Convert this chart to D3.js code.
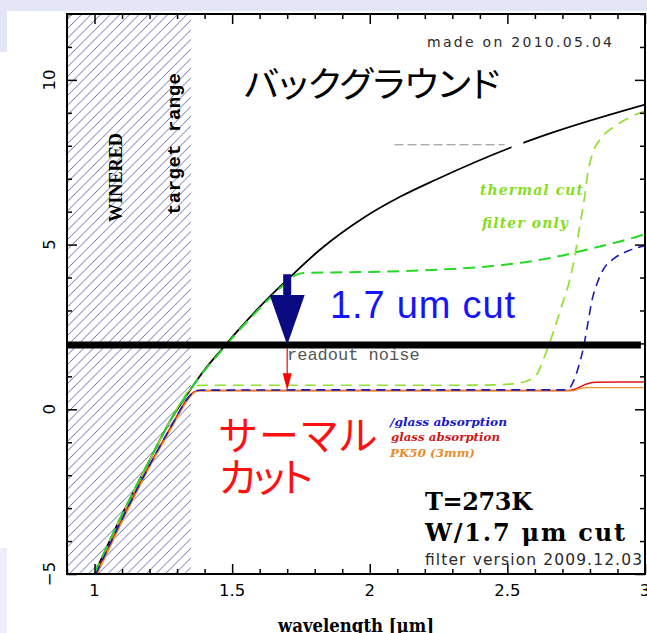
<!DOCTYPE html>
<html><head><meta charset="utf-8">
<script src="https://cdn.jsdelivr.net/npm/d3@7"></script>
<style>
html,body{margin:0;padding:0;background:#fff;}
svg{display:block;}
</style></head>
<body>
<svg id="chart" width="647" height="633"></svg>
<script>
// Axis ticks (wavelength in μm, log signal)
const xMajor = [1, 1.5, 2, 2.5, 3];
const xMajorLabels = ["1", "1.5", "2", "2.5", "3"];
const yMajor = [-5, 0, 5, 10];
const yMajorLabels = ["−5", "0", "5", "10"];

// Thermal background, T = 273 K
const background = [[1.0,-5.0],[1.1,-3.2],[1.2,-1.55],[1.275,-0.35],[1.35,0.62],[1.4,1.2],[1.46,1.8],[1.52,2.38],[1.64,3.45],[1.7,3.93],[1.82,4.85],[1.975,5.8],[2.11,6.45],[2.24,6.97],[2.52,7.97],[2.66,8.39],[3.0,9.25]];
// With the 1.7 μm cut filter
const cut17 = [[1.0,-5.0],[1.1,-3.2],[1.2,-1.55],[1.275,-0.35],[1.35,0.62],[1.4,1.18],[1.46,1.77],[1.52,2.35],[1.64,3.4],[1.7,3.88],[1.73,4.07],[1.76,4.14],[1.9,4.16],[2.06,4.18],[2.25,4.24],[2.42,4.33],[2.55,4.45],[2.66,4.6],[2.79,4.85],[2.97,5.24],[3.0,5.32]];
// Thermal cut filter only
const thermalCut = [[1.0,-5.0],[1.1,-3.2],[1.2,-1.55],[1.275,-0.35],[1.35,0.62],[1.37,0.72],[1.4,0.73],[1.8,0.73],[2.3,0.73],[2.45,0.74],[2.52,0.77],[2.598,0.97],[2.638,1.67],[2.67,2.42],[2.699,3.18],[2.725,3.88],[2.746,4.7],[2.764,5.61],[2.779,6.36],[2.793,7.21],[2.812,7.82],[2.841,8.24],[2.888,8.58],[2.942,8.85],[3.0,9.06]];
// Thermal cut w/ glass absorption
const glassBlue = [[1.005,-5.0],[1.105,-3.25],[1.205,-1.62],[1.283,-0.45],[1.32,0.1],[1.345,0.4],[1.36,0.52],[1.38,0.58],[2.0,0.59],[2.717,0.59],[2.743,0.91],[2.761,1.36],[2.775,1.82],[2.793,2.64],[2.808,3.33],[2.826,3.82],[2.848,4.24],[2.888,4.58],[2.942,4.82],[3.0,4.97]];
const glassRed = [[1.005,-5.0],[1.105,-3.25],[1.205,-1.62],[1.283,-0.45],[1.32,0.1],[1.345,0.4],[1.36,0.52],[1.38,0.57],[2.0,0.57],[2.72,0.57],[2.743,0.6],[2.761,0.67],[2.797,0.79],[2.822,0.82],[3.0,0.83]];
// PK50 (3mm)
const pk50 = [[1.01,-5.0],[1.11,-3.25],[1.21,-1.6],[1.288,-0.45],[1.325,0.1],[1.35,0.4],[1.365,0.52],[1.385,0.56],[2.0,0.56],[2.74,0.56],[2.76,0.62],[2.79,0.66],[3.0,0.66]];

const readoutNoise = 1.95;
const targetRange = [0.9, 1.35];
const cutArrow = {w: 1.7, from: 4.1, to: readoutNoise};
const gainArrow = {w: 1.7, from: readoutNoise, to: 0.58};
const keyLine = {w0: 2.09, w1: 2.49, v: 8.03};

const svg = d3.select("#chart");
const W = 647, H = 633;
const L = 67, R = 645, T = 14, B = 574;

const x = d3.scaleLinear().domain([0.9, 3.0]).range([L, R]);
const y = d3.scaleLinear().domain([-5, 12]).range([B, T]);

// slide background bits around the figure
svg.append("rect").attr("x",0).attr("y",0).attr("width",W).attr("height",11).attr("fill","#e5e5f8");
svg.append("rect").attr("x",0).attr("y",0).attr("width",7).attr("height",52).attr("fill","#e5e5f8");
svg.append("rect").attr("x",0).attr("y",548).attr("width",7).attr("height",H-548).attr("fill","#eeeefb");

const defs = svg.append("defs");
defs.append("clipPath").attr("id","plotClip")
  .append("rect").attr("x",L).attr("y",T).attr("width",R-L).attr("height",B-T);
const hs = 9.6;
defs.append("pattern").attr("id","hatch").attr("patternUnits","userSpaceOnUse")
  .attr("width",hs).attr("height",hs)
  .append("path")
  .attr("d",`M0,${hs} L${hs},0 M${-hs/4},${hs/4} L${hs/4},${-hs/4} M${hs*0.75},${hs*1.25} L${hs*1.25},${hs*0.75}`)
  .attr("stroke","#5a5aa6").attr("stroke-width",0.9);

const plot = svg.append("g").attr("clip-path","url(#plotClip)");

// target range shading
plot.append("rect")
  .attr("x", x(targetRange[0])).attr("y", T)
  .attr("width", x(targetRange[1]) - x(targetRange[0])).attr("height", B - T)
  .attr("fill","url(#hatch)");

const line = d3.line().x(d => x(d[0])).y(d => y(d[1])).curve(d3.curveMonotoneX);

function curve(data, color, width, dash) {
  const p = plot.append("path").datum(data).attr("d", line)
    .attr("fill","none").attr("stroke",color).attr("stroke-width",width)
    .attr("stroke-linejoin","round");
  if (dash) p.attr("stroke-dasharray", dash);
  return p;
}

curve(background, "#000", 1.8);
// grey key line and the label box that interrupts the background curve
plot.append("line")
  .attr("x1", x(keyLine.w0)).attr("x2", x(keyLine.w1))
  .attr("y1", y(keyLine.v)).attr("y2", y(keyLine.v))
  .attr("stroke","#8a8a8a").attr("stroke-width",1).attr("stroke-dasharray","9,4");
plot.append("rect")
  .attr("x", x(2.515)).attr("y", y(8.25))
  .attr("width", x(2.558) - x(2.515)).attr("height", y(7.85) - y(8.25))
  .attr("fill","#fff");

curve(glassRed, "#dd1515", 1.5);
curve(pk50, "#ee9530", 1.3);
curve(thermalCut, "#92e030", 1.7, "11,7");
curve(cut17, "#26d826", 2, "12,7");
curve(glassBlue, "#1c1cb0", 1.6, "9,6");

// readout noise level
plot.append("line")
  .attr("x1", x(0.9)).attr("x2", x(2.985))
  .attr("y1", y(readoutNoise)).attr("y2", y(readoutNoise))
  .attr("stroke","#000").attr("stroke-width",7);

// big arrow: effect of the 1.7 μm cut
{
  const ax = x(cutArrow.w), y0 = y(cutArrow.from), y1 = y(cutArrow.to);
  const headLen = 50, hw = 17.5, sw = 4;
  svg.append("path")
    .attr("d", `M${ax-sw},${y0} L${ax+sw},${y0} L${ax+sw},${y1-headLen} L${ax+hw},${y1-headLen} L${ax},${y1} L${ax-hw},${y1-headLen} L${ax-sw},${y1-headLen} Z`)
    .attr("fill","#0a0a82");
}
// thin red arrow: effect of the thermal cut
{
  const ax = x(gainArrow.w), y0 = y(gainArrow.from) + 3, y1 = y(gainArrow.to);
  const headLen = 17, hw = 4.5;
  svg.append("line").attr("x1",ax).attr("x2",ax).attr("y1",y0).attr("y2",y1-headLen+1)
    .attr("stroke","#ff0000").attr("stroke-width",1.2);
  svg.append("path")
    .attr("d", `M${ax-hw},${y1-headLen} L${ax+hw},${y1-headLen} L${ax},${y1} Z`)
    .attr("fill","#ff0000");
}

// frame and ticks
const frame = svg.append("g");
const xMinor = d3.range(9, 31).map(i => i / 10).filter(v => !xMajor.some(m => Math.abs(m - v) < 1e-9));
const yMinor = d3.range(-5, 13).filter(v => !yMajor.includes(v));
function ticks(axisGen, transform) {
  const g = frame.append("g").attr("transform", transform).call(axisGen);
  g.select(".domain").remove();
  g.selectAll("text").remove();
  g.selectAll("line").attr("stroke","#000").attr("stroke-width",1.5);
}
ticks(d3.axisBottom(x).tickValues(xMajor).tickSize(-10), `translate(0,${B})`);
ticks(d3.axisBottom(x).tickValues(xMinor).tickSize(-5), `translate(0,${B})`);
ticks(d3.axisTop(x).tickValues(xMajor).tickSize(-10), `translate(0,${T})`);
ticks(d3.axisTop(x).tickValues(xMinor).tickSize(-5), `translate(0,${T})`);
ticks(d3.axisLeft(y).tickValues(yMajor).tickSize(-10), `translate(${L},0)`);
ticks(d3.axisLeft(y).tickValues(yMinor).tickSize(-5), `translate(${L},0)`);
ticks(d3.axisRight(y).tickValues(yMajor).tickSize(-10), `translate(${R},0)`);
ticks(d3.axisRight(y).tickValues(yMinor).tickSize(-5), `translate(${R},0)`);
frame.append("rect").attr("x",L).attr("y",T).attr("width",R-L).attr("height",B-T)
  .attr("fill","none").attr("stroke","#000").attr("stroke-width",2);

// tick labels
svg.append("g").selectAll("text").data(xMajor).join("text")
  .attr("x", d => x(d)).attr("y", 596)
  .attr("text-anchor","middle")
  .attr("font-family","DejaVu Sans").attr("font-size",16.5).attr("fill","#000")
  .text((d, i) => xMajorLabels[i]);
svg.append("g").selectAll("text").data(yMajor).join("text")
  .attr("transform", d => `translate(55,${y(d)}) rotate(-90)`)
  .attr("text-anchor","middle")
  .attr("font-family","DejaVu Sans").attr("font-size",16.5).attr("fill","#000")
  .text((d, i) => yMajorLabels[i]);

svg.append("text").attr("x", (L + R) / 2).attr("y", 632)
  .attr("text-anchor","middle")
  .attr("font-family","DejaVu Serif").attr("font-weight","bold").attr("font-size",18)
  .attr("textLength",156).attr("lengthAdjust","spacingAndGlyphs")
  .text("wavelength [μm]");

// annotations
function label(opts) {
  const t = svg.append("text")
    .attr("x", opts.x).attr("y", opts.y)
    .attr("font-family", opts.font).attr("font-size", opts.size)
    .attr("fill", opts.color || "#000")
    .text(opts.text);
  if (opts.weight) t.attr("font-weight", opts.weight);
  if (opts.style) t.attr("font-style", opts.style);
  if (opts.len) t.attr("textLength", opts.len).attr("lengthAdjust", opts.adjust || "spacing");
  if (opts.anchor) t.attr("text-anchor", opts.anchor);
  if (opts.transform) t.attr("transform", opts.transform).attr("x", 0).attr("y", 0);
  if (opts.palt) t.style("font-feature-settings", '"palt" 1');
  return t;
}

label({text:"WINERED", font:"Liberation Serif", weight:"bold", size:19, transform:"translate(122,177.5) rotate(-90)", anchor:"middle", len:89, adjust:"spacingAndGlyphs"});
label({text:"target range", font:"Liberation Mono", weight:"bold", size:19, transform:"translate(180,144) rotate(-90)", anchor:"middle", len:142});

label({text:"made on 2010.05.04", x:427, y:47, font:"DejaVu Sans", size:14, color:"#2a2a2a", len:185});
label({text:"バックグラウンド", x:244, y:97, font:"Noto Sans CJK JP", size:35, len:256, adjust:"spacingAndGlyphs", palt:true});

label({text:"thermal cut", x:480, y:195, font:"DejaVu Serif", weight:"bold", style:"italic", size:14, color:"#86dd1e", len:103});
label({text:"filter only", x:482, y:228, font:"DejaVu Serif", weight:"bold", style:"italic", size:14, color:"#86dd1e", len:86});

label({text:"1.7 um cut", x:330, y:318, font:"Liberation Sans", size:38, color:"#1414ff", len:185});
label({text:"readout noise", x:287, y:360, font:"Liberation Mono", size:17, color:"#555"});

// two-line red caption
{
  const t = svg.append("text")
    .attr("font-family","Noto Sans CJK JP").attr("font-size",40).attr("fill","#ff0f0f")
    .style("font-feature-settings", '"palt" 1');
  t.append("tspan").attr("x",219).attr("y",450).attr("textLength",158).text("サーマル");
  t.append("tspan").attr("x",219).attr("y",492).attr("textLength",94).text("カット");
}

label({text:"/glass absorption", x:390, y:426, font:"DejaVu Serif", weight:"bold", style:"italic", size:11.5, color:"#1818cc", len:117, adjust:"spacingAndGlyphs"});
label({text:"glass absorption", x:391, y:441, font:"DejaVu Serif", weight:"bold", style:"italic", size:11.5, color:"#cc1818", len:109, adjust:"spacingAndGlyphs"});
label({text:"PK50 (3mm)", x:390, y:457, font:"DejaVu Serif", weight:"bold", style:"italic", size:11.5, color:"#e88c2c", len:85, adjust:"spacingAndGlyphs"});

label({text:"T=273K", x:425, y:510, font:"DejaVu Serif", weight:"bold", size:24, len:107});
label({text:"W/1.7 μm cut", x:425, y:541, font:"DejaVu Serif", weight:"bold", size:24, len:200});
label({text:"filter version 2009.12.03", x:425, y:565, font:"DejaVu Sans", size:15.5, color:"#2a2a2a", len:217});
</script>
</body></html>
